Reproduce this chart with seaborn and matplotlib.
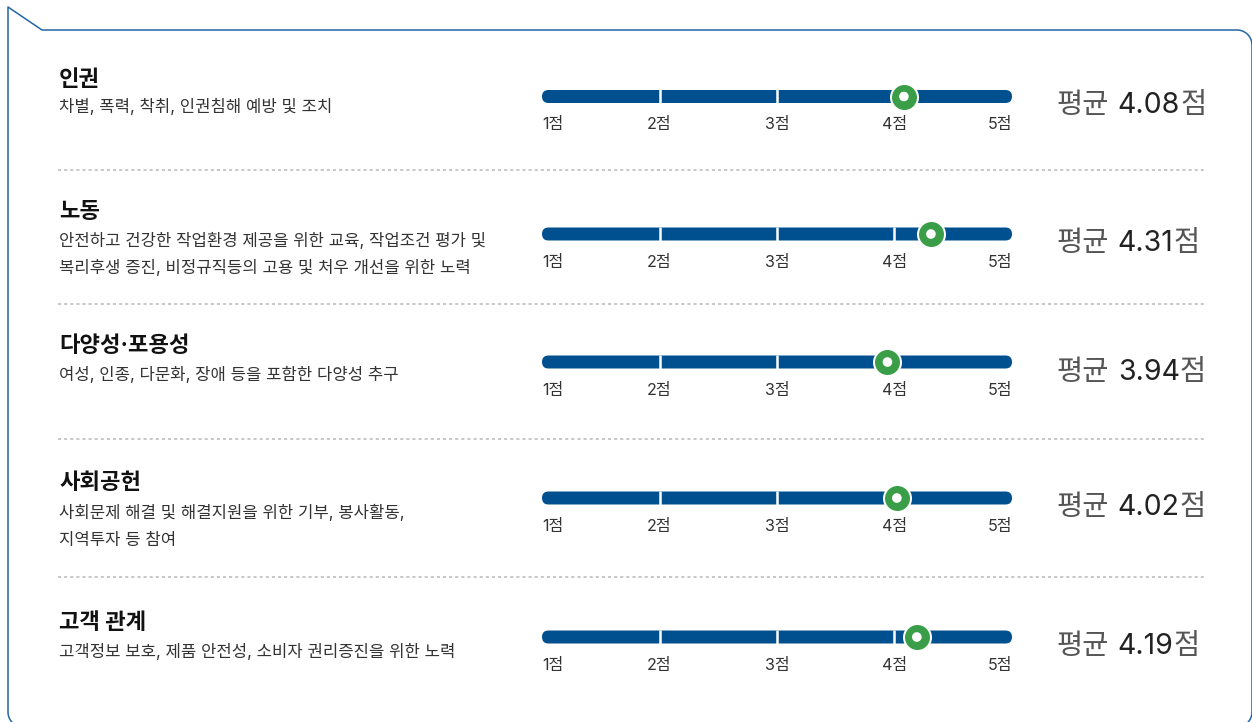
import numpy as np
import matplotlib
matplotlib.use("Agg")
import matplotlib.pyplot as plt
from matplotlib.patches import FancyBboxPatch
import seaborn as sns

# ---- data -------------------------------------------------------------
categories = ["인권", "노동", "다양성·포용성", "사회공헌", "고객 관계"]
descriptions = [
    ["차별, 폭력, 착취, 인권침해 예방 및 조치"],
    ["안전하고 건강한 작업환경 제공을 위한 교육, 작업조건 평가 및",
     "복리후생 증진, 비정규직등의 고용 및 처우 개선을 위한 노력"],
    ["여성, 인종, 다문화, 장애 등을 포함한 다양성 추구"],
    ["사회문제 해결 및 해결지원을 위한 기부, 봉사활동,",
     "지역투자 등 참여"],
    ["고객정보 보호, 제품 안전성, 소비자 권리증진을 위한 노력"],
]
averages = [4.08, 4.31, 3.94, 4.02, 4.19]
scale_ticks = [1, 2, 3, 4, 5]
tick_labels = ["1점", "2점", "3점", "4점", "5점"]

# ---- layout (pixels, top-left origin) ----------------------------------
W, H = 1252, 722
bar_y = [96.5, 234, 362, 498, 637]
title_y = [86, 218, 352, 489, 629]        # baselines
desc_y = [112, 246, 380, 518, 657]        # baseline of first line
desc_gap = 27
avg_base = [113, 251, 380, 515, 654]
divider_y = [170, 304, 439, 577]
bar_left, bar_width = 542, 470
bar_h = 13

BLUE = "#00508f"
GREEN = "#3a9e48"
FRAME = "#2466a8"

sns.set_theme(style="white")
plt.rcParams["font.family"] = ["Inter", "Noto Sans CJK KR", "DejaVu Sans"]
plt.rcParams["lines.scale_dashes"] = False

fig = plt.figure(figsize=(W / 100, H / 100), dpi=100)
fig.patch.set_facecolor("white")

# full-figure canvas in pixel units for frame, dividers and text
canvas = fig.add_axes([0, 0, 1, 1])
canvas.set_xlim(0, W)
canvas.set_ylim(H, 0)
canvas.axis("off")

# outer frame: notched top-left corner, rounded others
r = 15
left, top_notch, top, right, bottom = 8, 7, 30, 1252, 727
path_x, path_y = [], []
a = np.linspace(np.pi / 2, np.pi, 20)
path_x += list(left + r + r * np.cos(a))
path_y += list(bottom - r + r * np.sin(a))
path_x += [left, 42, right - r]
path_y += [top_notch, top, top]
a = np.linspace(-np.pi / 2, 0, 20)
path_x += list(right - r + r * np.cos(a))
path_y += list(top + r + r * np.sin(a))
path_x += [right]
path_y += [bottom - r]
a = np.linspace(0, np.pi / 2, 20)
path_x += list(right - r + r * np.cos(a))
path_y += list(bottom - r + r * np.sin(a))
canvas.plot(path_x, path_y, color=FRAME, lw=1.1, clip_on=False,
            solid_joinstyle="round")

# dotted dividers between rows
for y in divider_y:
    canvas.plot([58, 1207], [y, y], color="#bdbdbd", lw=1.2,
                dashes=(2.2, 2.2))

for i, (cat, desc, avg) in enumerate(zip(categories, descriptions, averages)):
    canvas.text(59, title_y[i], cat, fontsize=16, fontweight="bold",
                color="#111111", va="baseline", ha="left")
    for j, line in enumerate(desc):
        canvas.text(59, desc_y[i] + j * desc_gap, line, fontsize=12,
                    color="#333333", va="baseline", ha="left")

    # score track on a 1–5 scale
    ax_h = 32
    ax = fig.add_axes([bar_left / W, 1 - (bar_y[i] + ax_h / 2) / H,
                       bar_width / W, ax_h / H])
    ax.set_xlim(scale_ticks[0], scale_ticks[-1])
    ax.set_ylim(-ax_h / 2, ax_h / 2)
    ax.patch.set_alpha(0)
    for s in ax.spines.values():
        s.set_visible(False)

    span = scale_ticks[-1] - scale_ticks[0]
    rnd = (bar_h / 2) * span / bar_width
    track = FancyBboxPatch((scale_ticks[0], -bar_h / 2), span, bar_h,
                           boxstyle=f"round,pad=0,rounding_size={rnd}",
                           mutation_aspect=(bar_h / 2) / rnd,
                           facecolor=BLUE, edgecolor="none", zorder=1)
    ax.add_patch(track)
    ax.vlines(scale_ticks[1:-1], -bar_h / 2 - 1, bar_h / 2 + 1,
              color="white", lw=1.8, zorder=2)

    # average marker
    sns.scatterplot(x=[avg], y=[0], ax=ax, s=378, color=GREEN,
                    edgecolor="white", linewidth=1.44, zorder=5,
                    legend=False, clip_on=False)
    sns.scatterplot(x=[avg], y=[0], ax=ax, s=48, color="white",
                    edgecolor="none", linewidth=0, zorder=6,
                    legend=False, clip_on=False)

    ax.set_yticks([])
    ax.set_xticks(scale_ticks)
    ax.set_xticklabels(tick_labels)
    ax.tick_params(axis="x", length=0, pad=3.5, labelsize=11.6,
                   labelcolor="#333333")
    labs = ax.get_xticklabels()
    labs[0].set_ha("left")
    labs[-1].set_ha("right")
    ax.set_xlabel("")
    ax.set_ylabel("")

    # average readout
    t1 = canvas.text(1057, avg_base[i], "평균", fontsize=20.5,
                     color="#555555", va="baseline", ha="left")
    t2 = canvas.annotate(f"{avg:.2f}", xy=(1, 0), xycoords=t1,
                         xytext=(6, 0), textcoords="offset points",
                         fontsize=20.5, color="#222222", va="bottom", ha="left")
    canvas.annotate("점", xy=(1, 0), xycoords=t2, xytext=(0, 0),
                    textcoords="offset points", fontsize=20.5,
                    color="#555555", va="bottom", ha="left")

fig.savefig("out.png", dpi=100, facecolor="white")
